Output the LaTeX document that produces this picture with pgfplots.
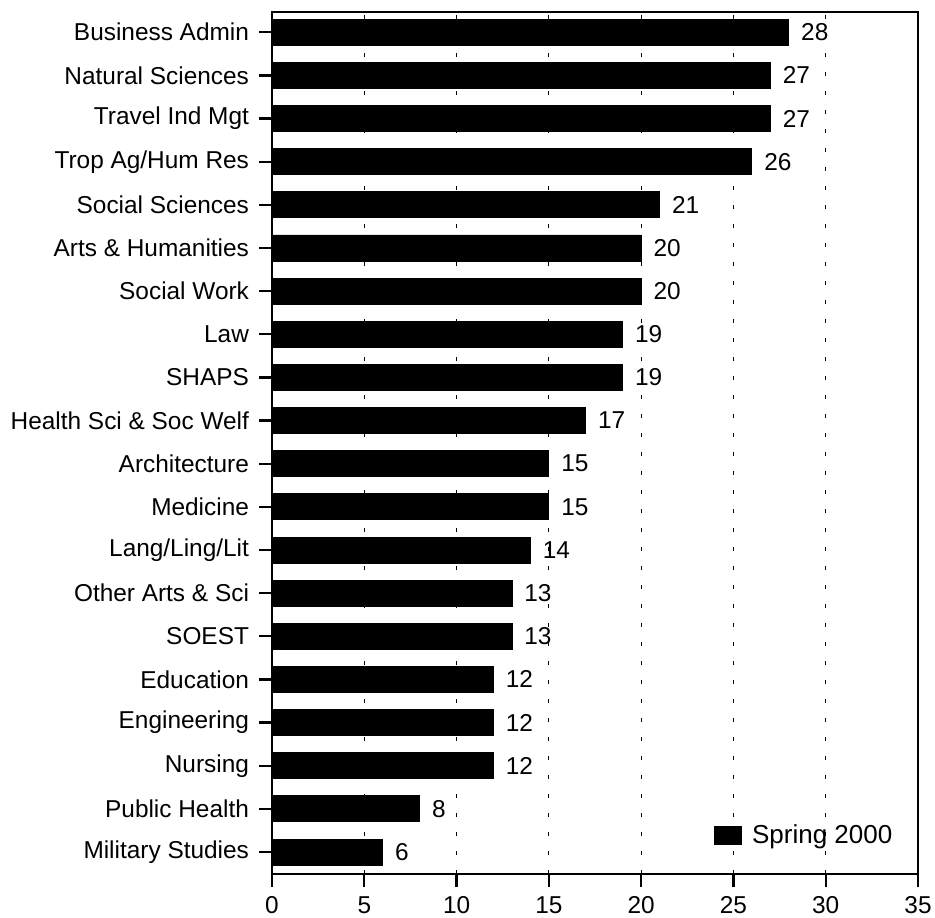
\documentclass[border=0pt]{standalone}
\usepackage{pgfplots}
\pgfplotsset{compat=1.18}
\usepackage{fontspec}
\setmainfont{Liberation Sans}
\begin{document}
\begin{tikzpicture}
\begin{axis}[
  scale only axis, width=323pt, height=431pt,
  xbar, bar width=13pt,
  xmin=0, xmax=35, ymin=-0.51, ymax=19.47,
  xtick={0,5,...,35},
  ytick={0,...,19},
  yticklabels={Military Studies, Public Health, Nursing, Engineering, Education, SOEST, Other Arts \& Sci, Lang/Ling/Lit, Medicine, Architecture, Health Sci \& Soc Welf, SHAPS, Law, Social Work, Arts \& Humanities, Social Sciences, Trop Ag/Hum Res, Travel Ind Mgt, Natural Sciences, Business Admin},
  tick align=outside, tick pos=left, major tick length=6.5pt,
  axis line style={line width=1.2pt}, tick style={line width=1.2pt, black},
  xmajorgrids, grid style={black, line width=0.5pt, dash pattern=on 2pt off 7.5pt},
  /pgf/number format/assume math mode=true,
  tick label style={font=\fontsize{12.2}{14}\selectfont},
  yticklabel style={xshift=-1.5pt},
  xticklabel style={yshift=-1.2pt},
  nodes near coords,
  nodes near coords style={font=\fontsize{12.2}{14}\selectfont, anchor=west, inner xsep=6pt, black},
  legend style={draw=none, fill=none, at={(rel axis cs:0.684,0.045)}, anchor=west, font=\fontsize{13}{15}\selectfont, inner sep=0pt},
  legend image code/.code={\fill[black] (0pt,-4.5pt) rectangle (13.5pt,4.5pt); \path (16.5pt,0pt);},
]
\addplot[fill=black, draw=black] coordinates {
(6,0) (8,1) (12,2) (12,3) (12,4) (13,5) (13,6) (14,7) (15,8) (15,9) (17,10) (19,11) (19,12) (20,13) (20,14) (21,15) (26,16) (27,17) (27,18) (28,19)
};
\addlegendentry{Spring 2000}
\coordinate (bl) at (rel axis cs:0,0);
\end{axis}
\pgfresetboundingbox
\path[use as bounding box] (bl) ++(-136pt,-21.5pt) rectangle ++(467.5pt,458.5pt);
\end{tikzpicture}
\end{document}
